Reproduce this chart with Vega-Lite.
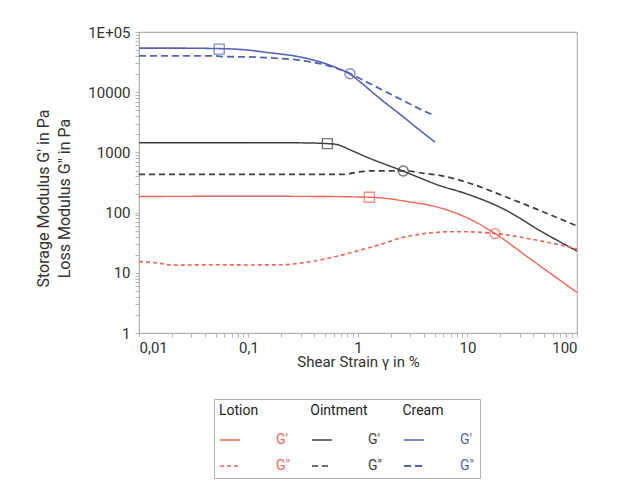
{
  "$schema": "https://vega.github.io/schema/vega-lite/v6.json",
  "width": 438,
  "height": 301,
  "autosize": {"type": "none"},
  "padding": {"left": 139, "top": 32, "right": 44, "bottom": 165},
  "background": "white",
  "config": {
    "font": "Roboto",
    "view": {"stroke": "#b3b3b3", "strokeWidth": 1.2},
    "axis": {"domainColor": "#b3b3b3", "tickColor": "#b3b3b3", "grid": false, "labelColor": "#333333", "titleColor": "#333333", "labelFontSize": 15, "titleFontSize": 15, "titleFontWeight": "normal", "labelOverlap": false}
  },
  "datasets": {
    "curves": [
      {"x": 0.01, "y": 185, "series": "Lotion G'"},
      {"x": 0.1, "y": 187, "series": "Lotion G'"},
      {"x": 0.5, "y": 185, "series": "Lotion G'"},
      {"x": 1.27, "y": 180, "series": "Lotion G'"},
      {"x": 1.6, "y": 176, "series": "Lotion G'"},
      {"x": 3.0, "y": 150, "series": "Lotion G'"},
      {"x": 4.2, "y": 136, "series": "Lotion G'"},
      {"x": 5.6, "y": 120, "series": "Lotion G'"},
      {"x": 7.2, "y": 104, "series": "Lotion G'"},
      {"x": 9.2, "y": 87, "series": "Lotion G'"},
      {"x": 11.3, "y": 73, "series": "Lotion G'"},
      {"x": 17.8, "y": 45, "series": "Lotion G'"},
      {"x": 37, "y": 17.3, "series": "Lotion G'"},
      {"x": 53, "y": 10.8, "series": "Lotion G'"},
      {"x": 100, "y": 4.7, "series": "Lotion G'"},

      {"x": 0.01, "y": 1450, "series": "Ointment G'"},
      {"x": 0.1, "y": 1450, "series": "Ointment G'"},
      {"x": 0.3, "y": 1440, "series": "Ointment G'"},
      {"x": 0.525, "y": 1400, "series": "Ointment G'"},
      {"x": 0.64, "y": 1350, "series": "Ointment G'"},
      {"x": 0.9, "y": 1050, "series": "Ointment G'"},
      {"x": 1.2, "y": 835, "series": "Ointment G'"},
      {"x": 2.59, "y": 488, "series": "Ointment G'"},
      {"x": 5.6, "y": 280, "series": "Ointment G'"},
      {"x": 9.8, "y": 205, "series": "Ointment G'"},
      {"x": 22.8, "y": 108, "series": "Ointment G'"},
      {"x": 46, "y": 50, "series": "Ointment G'"},
      {"x": 100, "y": 23, "series": "Ointment G'"},

      {"x": 0.01, "y": 54000, "series": "Cream G'"},
      {"x": 0.02, "y": 54000, "series": "Cream G'"},
      {"x": 0.054, "y": 53000, "series": "Cream G'"},
      {"x": 0.1, "y": 50000, "series": "Cream G'"},
      {"x": 0.144, "y": 46000, "series": "Cream G'"},
      {"x": 0.29, "y": 38700, "series": "Cream G'"},
      {"x": 0.5, "y": 30000, "series": "Cream G'"},
      {"x": 0.65, "y": 25000, "series": "Cream G'"},
      {"x": 0.845, "y": 20000, "series": "Cream G'"},
      {"x": 1.0, "y": 15800, "series": "Cream G'"},
      {"x": 1.65, "y": 7400, "series": "Cream G'"},
      {"x": 2.5, "y": 4100, "series": "Cream G'"},
      {"x": 3.5, "y": 2500, "series": "Cream G'"},
      {"x": 5.05, "y": 1480, "series": "Cream G'"},

      {"x": 0.01, "y": 15.3, "series": "Lotion G\""},
      {"x": 0.015, "y": 14.5, "series": "Lotion G\""},
      {"x": 0.02, "y": 13.4, "series": "Lotion G\""},
      {"x": 0.05, "y": 13.6, "series": "Lotion G\""},
      {"x": 0.1, "y": 13.5, "series": "Lotion G\""},
      {"x": 0.2, "y": 13.6, "series": "Lotion G\""},
      {"x": 0.3, "y": 14.5, "series": "Lotion G\""},
      {"x": 0.45, "y": 16.3, "series": "Lotion G\""},
      {"x": 0.62, "y": 18.5, "series": "Lotion G\""},
      {"x": 1.2, "y": 25.5, "series": "Lotion G\""},
      {"x": 1.7, "y": 30.5, "series": "Lotion G\""},
      {"x": 2.4, "y": 37.5, "series": "Lotion G\""},
      {"x": 3.2, "y": 42, "series": "Lotion G\""},
      {"x": 4.9, "y": 46.5, "series": "Lotion G\""},
      {"x": 6.5, "y": 48, "series": "Lotion G\""},
      {"x": 9.8, "y": 48, "series": "Lotion G\""},
      {"x": 17.8, "y": 45, "series": "Lotion G\""},
      {"x": 46, "y": 34, "series": "Lotion G\""},
      {"x": 100, "y": 25, "series": "Lotion G\""},

      {"x": 0.01, "y": 430, "series": "Ointment G\""},
      {"x": 0.5, "y": 430, "series": "Ointment G\""},
      {"x": 0.73, "y": 432, "series": "Ointment G\""},
      {"x": 1.0, "y": 470, "series": "Ointment G\""},
      {"x": 1.3, "y": 495, "series": "Ointment G\""},
      {"x": 2.59, "y": 495, "series": "Ointment G\""},
      {"x": 4.0, "y": 450, "series": "Ointment G\""},
      {"x": 5.6, "y": 414, "series": "Ointment G\""},
      {"x": 9.8, "y": 320, "series": "Ointment G\""},
      {"x": 22.8, "y": 180, "series": "Ointment G\""},
      {"x": 46, "y": 108, "series": "Ointment G\""},
      {"x": 100, "y": 60, "series": "Ointment G\""},

      {"x": 0.01, "y": 40000, "series": "Cream G\""},
      {"x": 0.05, "y": 40000, "series": "Cream G\""},
      {"x": 0.06, "y": 39000, "series": "Cream G\""},
      {"x": 0.1, "y": 38500, "series": "Cream G\""},
      {"x": 0.144, "y": 37500, "series": "Cream G\""},
      {"x": 0.29, "y": 34000, "series": "Cream G\""},
      {"x": 0.5, "y": 28500, "series": "Cream G\""},
      {"x": 0.845, "y": 20400, "series": "Cream G\""},
      {"x": 1.0, "y": 17500, "series": "Cream G\""},
      {"x": 1.65, "y": 11000, "series": "Cream G\""},
      {"x": 2.5, "y": 7500, "series": "Cream G\""},
      {"x": 3.5, "y": 5500, "series": "Cream G\""},
      {"x": 5.05, "y": 4030, "series": "Cream G\""}
    ],
    "marks": [
      {"x": 0.054, "y": 52000, "series": "Cream G'", "kind": "yield"},
      {"x": 0.525, "y": 1400, "series": "Ointment G'", "kind": "yield"},
      {"x": 1.27, "y": 180, "series": "Lotion G'", "kind": "yield"},
      {"x": 0.845, "y": 20200, "series": "Cream G'", "kind": "crossover"},
      {"x": 2.59, "y": 490, "series": "Ointment G'", "kind": "crossover"},
      {"x": 17.8, "y": 45, "series": "Lotion G'", "kind": "crossover"}
    ]
  },
  "layer": [
    {
      "data": {"name": "curves"},
      "mark": {"type": "line", "interpolate": "monotone", "clip": true},
      "encoding": {
        "x": {
          "field": "x", "type": "quantitative",
          "scale": {"type": "log", "domain": [0.01, 100], "nice": false},
          "axis": {
            "title": "Shear Strain γ in %",
            "values": [0.01,0.02,0.03,0.04,0.05,0.06,0.07,0.08,0.09,0.1,0.2,0.3,0.4,0.5,0.6,0.7,0.8,0.9,1,2,3,4,5,6,7,8,9,10,20,30,40,50,60,70,80,90,100],
            "labelExpr": "indexof([0.01,0.1,1,10,100], datum.value) >= 0 ? replace(format(datum.value, ''), '.', ',') : ''",
            "tickSize": 4, "labelPadding": 3, "titlePadding": -1
          }
        },
        "y": {
          "field": "y", "type": "quantitative",
          "scale": {"type": "log", "domain": [1, 100000], "nice": false},
          "axis": {
            "title": ["Storage Modulus G' in Pa", "Loss Modulus G\" in Pa"],
            "values": [1,2,3,4,5,6,7,8,9,10,20,30,40,50,60,70,80,90,100,200,300,400,500,600,700,800,900,1000,2000,3000,4000,5000,6000,7000,8000,9000,10000,20000,30000,40000,50000,60000,70000,80000,90000,100000],
            "labelExpr": "datum.value == 100000 ? '1E+05' : (indexof([1,10,100,1000,10000], datum.value) >= 0 ? format(datum.value, 'd') : '')",
            "tickSize": 4, "labelPadding": 5, "titlePadding": 15, "titleY": 166, "titleFontSize": 16, "titleLineHeight": 21
          }
        },
        "color": {
          "field": "series", "type": "nominal",
          "scale": {
            "domain": ["Lotion G'", "Ointment G'", "Cream G'", "Lotion G\"", "Ointment G\"", "Cream G\""],
            "range": ["#ee6656", "#3f3f3f", "#5561b3", "#ee6656", "#3f3f3f", "#5561b3"]
          },
          "legend": {
            "orient": "none", "legendX": 75, "legendY": 367,
            "title": "Lotion\u00a0\u00a0\u00a0\u00a0\u00a0\u00a0\u00a0\u00a0\u00a0\u00a0\u00a0\u00a0\u00a0\u00a0\u00a0Ointment\u00a0\u00a0\u00a0\u00a0\u00a0\u00a0\u00a0\u00a0\u00a0\u00a0Cream",
            "titleLimit": 400,
            "columns": 3, "direction": "horizontal", "gridAlign": "all",
            "symbolType": "stroke", "symbolSize": 400, "symbolStrokeWidth": 2,
            "labelExpr": "split(datum.label, ' ')[1]",
            "labelOffset": 35, "columnPadding": 17, "rowPadding": 8,
            "labelFontSize": 14, "titleFontSize": 14, "titleFontWeight": "normal", "titleColor": "#222222",
            "padding": 5, "strokeColor": "#b0b0b0", "titlePadding": 11,
            "encode": {"labels": {"update": {"fill": {"signal": "scale('color', datum.value)"}}}}
          }
        },
        "strokeDash": {
          "field": "series", "type": "nominal",
          "scale": {
            "domain": ["Lotion G'", "Ointment G'", "Cream G'", "Lotion G\"", "Ointment G\"", "Cream G\""],
            "range": [[1, 0], [1, 0], [1, 0], [4, 3], [6, 4], [7, 4]]
          }
        },
        "strokeWidth": {
          "field": "series", "type": "nominal",
          "scale": {
            "domain": ["Lotion G'", "Ointment G'", "Cream G'", "Lotion G\"", "Ointment G\"", "Cream G\""],
            "range": [1.4, 1.8, 1.6, 1.4, 1.8, 1.6]
          },
          "legend": null
        }
      }
    },
    {
      "data": {"name": "marks"},
      "mark": {"type": "point", "filled": false, "size": 100, "strokeWidth": 1.4},
      "encoding": {
        "x": {"field": "x", "type": "quantitative"},
        "y": {"field": "y", "type": "quantitative"},
        "color": {"field": "series", "type": "nominal"},
        "shape": {
          "field": "kind", "type": "nominal",
          "scale": {"domain": ["yield", "crossover"], "range": ["square", "circle"]},
          "legend": null
        }
      }
    }
  ]
}
